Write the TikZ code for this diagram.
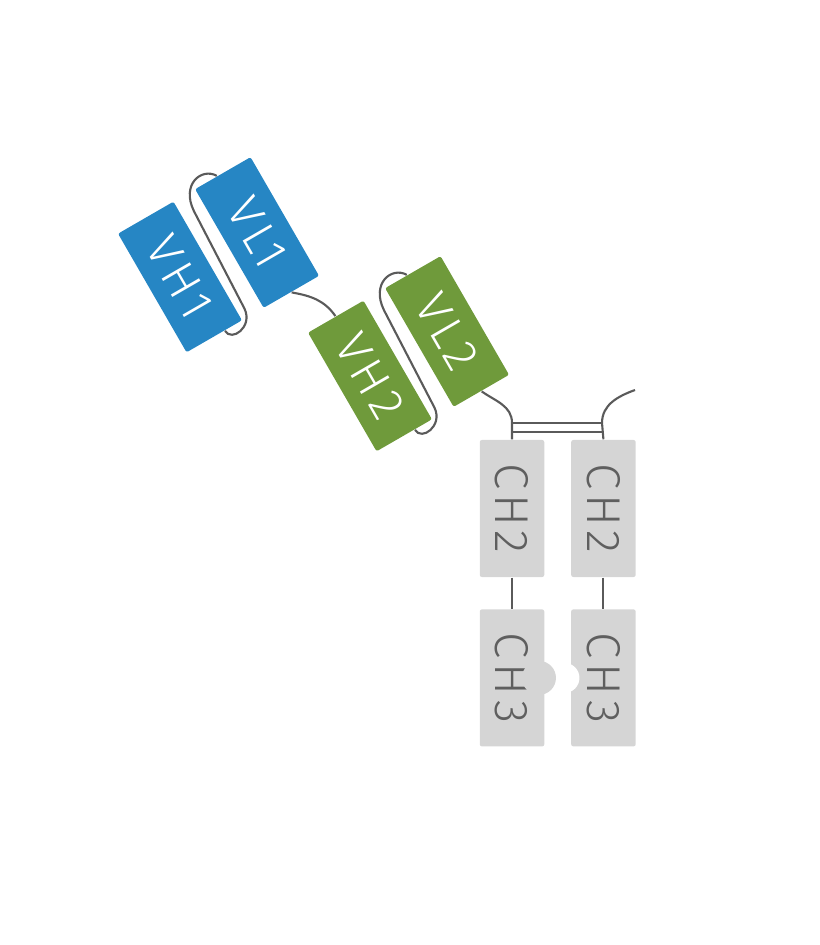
\documentclass[tikz,border=0pt]{standalone}
\usepackage{fontspec}
\setmainfont{Fira Sans}[UprightFont=* Light, LetterSpace=10]
\usetikzlibrary{positioning,calc}
\definecolor{vblue}{HTML}{2686C4}
\definecolor{vgreen}{HTML}{6F9A3B}
\definecolor{chgray}{HTML}{D5D5D5}
\definecolor{chtext}{HTML}{5F5F5F}
\definecolor{linkgray}{HTML}{5A5A5A}
\begin{document}
\begin{tikzpicture}[
  vdom/.style={rectangle, rounded corners=0.6pt, minimum width=1.37cm, minimum height=0.64cm, inner sep=0pt, text=white, font=\fontsize{13.5}{14}\selectfont},
  chdom/.style={rectangle, fill=chgray, rounded corners=0.6pt, minimum width=0.645cm, minimum height=1.37cm, inner sep=0pt, text=chtext, font=\fontsize{13.5}{14}\selectfont},
  link/.style={draw=linkgray, line width=0.6pt}]
\useasboundingbox (0,0) rectangle (8.19,-9.45);

% variable domains, two Fab arms
\foreach \n/\c/\col in {1/{1.80,-2.77}/vblue, 2/{3.70,-3.76}/vgreen} {
  \begin{scope}[shift={(\c)}, rotate=-60, transform shape]
    \node[vdom, fill=\col] (VH\n) at (0,0) {VH\n};
    \node[vdom, fill=\col] (VL\n) at (0,0.89) {VL\n};
    \draw[link] ($(VL\n.west)!0.2!(VL\n.south west)$) .. controls +(-0.15,-0.09) and +(-0.30,0.02) .. (-0.50,0.45)
      -- (0.60,0.40) .. controls +(0.20,-0.02) and +(0.13,0) .. ($(VH\n.east)!0.37!(VH\n.north east)$);
  \end{scope}
}

% Fc part
\node[chdom] (CH2L) at (5.12,-5.085) {\rotatebox{-90}{CH2}};
\node[chdom, right=0.255cm of CH2L] (CH2R) {\rotatebox{-90}{CH2}};
\node[chdom, below=0.31cm of CH2L] (CH3L) {\rotatebox{-90}{CH3}};
\node[chdom, below=0.31cm of CH2R] (CH3R) {\rotatebox{-90}{CH3}};
\fill[white] ([xshift=-0.06cm]CH3R.west) circle (0.15);
\fill[chgray] ([xshift=-0.06cm]CH3L.east) circle (0.17);

\coordinate (hingeLa) at (5.12,-4.23);
\coordinate (hingeRa) at (6.02,-4.23);
\coordinate (hingeLb) at (5.12,-4.32);
\coordinate (hingeRb) at (6.02,-4.32);
\coordinate (armR) at (6.35,-3.90);

\draw[link] (VL1.east) to[out=-10, in=125] (VH2.west);
\draw[link] (VL2.east) to[out=-35, in=90] (hingeLa) -- (CH2L.north);
\draw[link] (CH2R.north) -- (hingeRa) to[out=90, in=-160] (armR);
\draw[link] (hingeLa) -- (hingeRa);
\draw[link] (hingeLb) -- (hingeRb);
\draw[link] (CH2L.south) -- (CH3L.north);
\draw[link] (CH2R.south) -- (CH3R.north);
\end{tikzpicture}
\end{document}
